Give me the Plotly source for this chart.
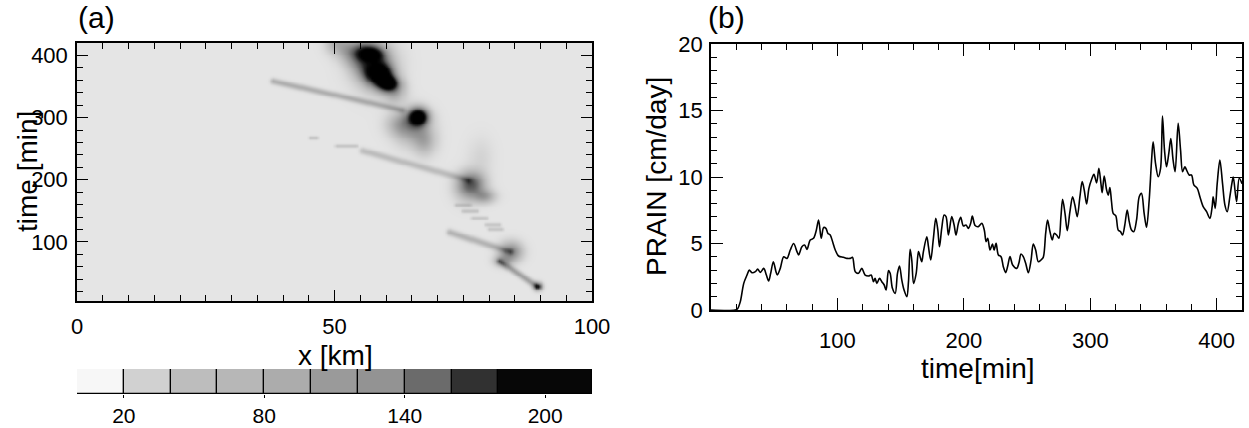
import numpy as np
import plotly.graph_objects as go

# ---------------- Panel (a): features of the rain field (x [km], time [min]) ----------------
blob_x = [57.0, 58.8, 60.6, 57.5, 66.2, 65.0, 67.5, 76.8, 79.0, 78.3, 75.5, 84.2, 82.5, 89.4, 62.5, 55.5]
blob_t = [402, 372, 355, 388, 302, 285, 262, 195, 174, 236, 188, 85, 70, 29, 290, 412]
blob_amp = [160, 185, 165, 80, 230, 75, 50, 90, 70, 16, 55, 95, 60, 120, 40, 60]
blob_sx = [9, 9, 7, 15, 7, 12, 8, 9, 8, 9, 9, 8, 6, 3, 10, 10]
blob_st = [5, 8, 5, 17, 6, 12, 10, 8, 5, 14, 10, 7, 4, 3, 8, 6]

seg_x0 = [38.0, 55.5, 72.3, 82.0, 50.5, 45.2, 50.3, 73.6, 75.0, 76.8, 79.4, 80.0]
seg_t0 = [359, 247, 116, 69, 420, 268, 255, 160, 150, 139, 128, 121]
seg_x1 = [63.0, 76.0, 84.0, 89.4, 61.5, 46.5, 54.2, 76.2, 77.5, 79.4, 82.0, 82.5]
seg_t1 = [313, 200, 85, 29, 342, 268, 255, 160, 150, 139, 128, 121]
seg_amp = [55, 40, 50, 70, 60, 35, 30, 30, 30, 28, 28, 28]
seg_w = [2.2, 2.4, 2.4, 2.2, 8.0, 1.3, 1.3, 1.4, 1.4, 1.4, 1.4, 1.4]
background_level = 8

# colour bar bins
cbar_edges = [0, 20, 40, 60, 80, 100, 120, 140, 160, 180, 220]
cbar_colors = ['#f7f7f7', '#d1d1d1', '#bdbdbd', '#b7b7b7', '#acacac',
               '#9a9a9a', '#939393', '#6b6b6b', '#313131', '#070707']
cbar_ticks = [20, 80, 140, 200]

# ---------------- Panel (b): PRAIN time series ----------------
time_min = [0, 19, 21, 23.2, 25.9, 28.5, 30.3, 32.4, 35.1, 36.9, 39.0, 41.7, 43.8, 45.6, 47.2, 49.3,
            51.4, 52.5, 54.8, 57.5, 60.1, 62.7, 65.4, 68.0, 69.3, 71.9, 74.0, 75.9, 78.5, 81.1, 83.3,
            85.1, 87.2, 89.1, 90.9, 92.5, 94.3, 96.2, 98.3, 100.9, 104.8, 107.5, 110.1, 111.9, 114.1,
            116.7, 119.3, 121.9, 124.6, 126.7, 128.5, 129.8, 131.2, 133.3, 135.1, 137.0, 138.5, 140.4,
            141.7, 143.5, 145.7, 147.5, 149.1, 150.9, 152.7, 154.9, 156.2, 157.5, 158.8, 160.2, 162.3,
            164.1, 165.4, 166.7, 168.0, 170.7, 172.0, 173.8, 175.9, 177.8, 179.4, 180.7, 182.5, 184.4,
            185.9, 187.8, 190.4, 192.3, 193.8, 195.7, 197.5, 199.6, 201.7, 203.6, 205.4, 206.7, 208.9,
            211.5, 214.2, 216.2, 217.6, 218.9, 220.7, 222.6, 223.9, 225.5, 227.3, 229.4, 231.2, 233.1,
            234.7, 236.5, 238.6, 241.8, 243.6, 245.2, 247.0, 248.9, 251.0, 253.1, 254.9, 256.8, 258.9,
            261.0, 262.8, 264.7, 266.2, 268.1, 269.9, 271.5, 273.4, 275.2, 276.8, 278.1, 280.0, 281.8,
            283.9, 286.0, 287.8, 289.7, 291.8, 293.6, 295.2, 297.1, 298.9, 301.0, 302.9, 305.0, 306.8,
            308.4, 309.4, 311.0, 312.9, 314.2, 315.5, 316.8, 318.1, 320.2, 322.1, 323.9, 325.5, 327.3,
            329.2, 330.8, 332.6, 334.4, 336.6, 338.7, 340.5, 342.6, 344.5, 346.6, 348.4, 349.7, 351.6,
            353.7, 355.6, 357.1, 358.7, 360.3, 362.1, 363.7, 365.5, 367.1, 369.5, 371.4, 373.0, 374.8,
            376.1, 378.2, 380.1, 381.9, 384.6, 386.7, 389.3, 392.0, 394.6, 396.4, 397.2, 398.8, 400.4,
            402.5, 404.6, 406.5, 408.3, 410.4, 412.0, 413.1, 415.7, 417.8, 420.0]
prain = [0, 0, 0.1, 0.63, 2.0, 2.63, 3.0, 2.8, 2.88, 3.08, 2.83, 3.13, 2.63, 2.18, 2.76, 3.63,
         2.88, 2.63, 3.13, 4.0, 3.88, 4.51, 5.0, 4.39, 4.14, 4.76, 4.89, 4.56, 5.26, 5.39, 6.0,
         6.77, 5.39, 6.2, 6.14, 5.76, 5.64, 5.13, 4.51, 4.06, 3.96, 3.88, 3.88, 3.96, 2.88,
         2.76, 3.13, 2.63, 2.56, 2.63, 2.13, 2.38, 2.0, 2.38, 2.13, 1.88, 1.5, 2.96,
         2.76, 1.63, 1.25, 2.76, 3.31, 2.26, 1.5, 1.0, 2.13, 4.56, 3.76, 2.0, 2.76,
         4.39, 4.01, 3.63, 4.39, 5.51, 4.76, 3.76, 5.39, 6.89, 6.02, 4.76, 6.14, 7.14,
         7.02, 5.64, 7.02, 6.39, 5.64, 6.52, 6.97, 6.32, 6.39, 6.14, 6.52, 7.07, 6.35,
         6.27, 6.52, 6.0, 5.14, 5.39, 4.51, 4.96, 4.51, 5.01, 4.14, 4.01, 3.26, 2.81,
         3.31, 4.01, 3.38, 3.13, 3.56, 4.21, 4.01, 3.51, 2.81, 3.71, 4.96, 4.51, 3.63,
         3.76, 3.96, 5.76, 6.77, 5.89, 5.26, 5.76, 5.64, 5.39, 7.02, 8.32, 7.27, 5.96,
         7.39, 8.52, 7.89, 7.02, 8.52, 9.65, 9.02, 7.97, 9.15, 9.81, 10.2, 9.56, 10.65,
         9.52, 8.82, 10.07, 9.02, 8.64, 9.2, 8.14, 7.27, 7.07, 6.01, 5.89, 5.64, 6.39,
         7.52, 6.64, 6.01, 5.89, 6.77, 8.52, 8.77, 7.27, 6.22, 8.27, 11.15, 12.65, 11.03,
         10.02, 10.65, 14.58, 12.02, 10.77, 11.77, 12.89, 11.27, 10.4, 14.03, 12.02, 10.4, 10.77,
         10.53, 10.15, 10.15, 9.4, 9.15, 8.52, 7.77, 7.39, 6.89, 7.77, 8.52, 7.64, 9.52,
         11.27, 9.52, 7.89, 7.39, 8.52, 9.52, 10.0, 8.14, 9.9, 9.5]

# ---------------- build the field for panel (a) ----------------
W, H = 1249, 428
ax_l, ax_r, ax_t, ax_b = 77, 592, 43, 301
x_rng = [0, 100]
t_rng = [5, 420]
kx = (ax_r - ax_l) / (x_rng[1] - x_rng[0])      # px per km
kt = (ax_b - ax_t) / (t_rng[1] - t_rng[0])      # px per min

xg = np.arange(0, 100.01, 0.4)
tg = np.arange(4, 421, 1.5)
XX, TT = np.meshgrid(xg, tg)
Z = np.full(XX.shape, float(background_level))
for bx, bt, ba, sx, st in zip(blob_x, blob_t, blob_amp, blob_sx, blob_st):
    dx = (XX - bx) * kx / sx
    dt = (TT - bt) * kt / st
    Z += ba * np.exp(-0.5 * (dx ** 2 + dt ** 2))
for x0, t0, x1, t1, a, w in zip(seg_x0, seg_t0, seg_x1, seg_t1, seg_amp, seg_w):
    px, pt = (XX - x0) * kx, (TT - t0) * kt
    vx, vt = (x1 - x0) * kx, (t1 - t0) * kt
    L2 = vx * vx + vt * vt
    u = np.clip((px * vx + pt * vt) / L2, 0, 1)
    d2 = (px - u * vx) ** 2 + (pt - u * vt) ** 2
    Z += a * np.exp(-0.5 * d2 / w ** 2)
Z = np.clip(Z, 0, 220)

heat_scale = [[0, '#f2f2f2'], [8 / 220, '#e5e5e5'], [30 / 220, '#cdcdcd'], [60 / 220, '#b2b2b2'],
              [100 / 220, '#8c8c8c'], [140 / 220, '#585858'], [170 / 220, '#262626'],
              [200 / 220, '#080808'], [1, '#000000']]

FONT = "Liberation Sans, Arial, Helvetica, sans-serif"

fig = go.Figure()
fig.add_trace(go.Heatmap(x=xg, y=tg, z=Z, colorscale=heat_scale, zmin=0, zmax=220,
                         zsmooth='best', showscale=False, xaxis='x', yaxis='y', hoverinfo='skip'))

# colour bar drawn as bars
widths = [cbar_edges[i + 1] - cbar_edges[i] for i in range(len(cbar_colors))]
fig.add_trace(go.Bar(x=widths, y=[0] * len(widths), base=cbar_edges[:-1], orientation='h',
                     marker=dict(color=cbar_colors, line=dict(color='black', width=1.2)),
                     width=1, xaxis='x3', yaxis='y3', showlegend=False, hoverinfo='skip'))

# line panel (b)
fig.add_trace(go.Scatter(x=time_min, y=prain, mode='lines',
                         line=dict(color='black', width=1.6, shape='spline', smoothing=0.9),
                         xaxis='x2', yaxis='y2', showlegend=False, hoverinfo='skip'))

def dom_x(l, r):
    return [l / W, r / W]

def dom_y(t, b):
    return [(H - b) / H, (H - t) / H]

TICKFONT = dict(family=FONT, size=22, color='black')
axis_common = dict(showline=True, linecolor='black', linewidth=1.5, mirror='allticks',
                   ticks='inside', tickcolor='black', tickwidth=1.3, showgrid=False,
                   zeroline=False, automargin=False, tickfont=TICKFONT)
minor_common = dict(ticks='inside', ticklen=6, tickcolor='black', tickwidth=1.2)

fig.update_layout(
    width=W, height=H, margin=dict(l=0, r=0, t=0, b=0, autoexpand=False),
    paper_bgcolor='white', plot_bgcolor='white',
    font=dict(family=FONT, color='black'),
    barmode='overlay', bargap=0,
    xaxis=dict(domain=dom_x(ax_l, ax_r), range=x_rng, tickvals=[0, 50, 100], ticklen=11,
               ticklabelstandoff=5, minor=dict(dtick=5, tick0=0, **minor_common),
               anchor='y', **axis_common),
    yaxis=dict(domain=dom_y(ax_t, ax_b), range=t_rng, tickvals=[100, 200, 300, 400], ticklen=11,
               ticklabelstandoff=3, minor=dict(dtick=20, tick0=0, **minor_common),
               anchor='x', **axis_common),
    xaxis2=dict(domain=dom_x(711, 1242), range=[0, 420], tickvals=[100, 200, 300, 400], ticklen=12,
                ticklabelstandoff=10, minor=dict(dtick=20, tick0=0, **minor_common),
                anchor='y2', **axis_common),
    yaxis2=dict(domain=dom_y(44, 310), range=[0, 20], tickvals=[0, 5, 10, 15, 20], ticklen=12,
                ticklabelstandoff=2, minor=dict(dtick=1, tick0=0, **minor_common),
                anchor='x2', **axis_common),
    xaxis3=dict(domain=dom_x(ax_l, ax_r), range=[0, 220], tickvals=cbar_ticks, ticks='outside',
                ticklen=3, tickcolor='black', tickwidth=1.3, showline=False, showgrid=False,
                zeroline=False, anchor='y3', ticklabelstandoff=0, automargin=False,
                tickfont=dict(family=FONT, size=21, color='black')),
    yaxis3=dict(domain=dom_y(369, 394), range=[-0.5, 0.5], visible=False, anchor='x3',
                automargin=False),
)

title_font = dict(family=FONT, size=28, color='black')
panel_font = dict(family=FONT, size=30, color='black')
annotations = [
    dict(text='(a)', x=76 / W, y=(H - 18) / H, xanchor='left', yanchor='middle', font=panel_font),
    dict(text='(b)', x=706 / W, y=(H - 18) / H, xanchor='left', yanchor='middle', font=panel_font),
    dict(text='time [min]', x=27 / W, y=(H - 172) / H, xanchor='center', yanchor='middle',
         textangle=-90, font=title_font),
    dict(text='x [km]', x=335 / W, y=(H - 355) / H, xanchor='center', yanchor='middle', font=title_font),
    dict(text='PRAIN [cm/day]', x=657 / W, y=(H - 177) / H, xanchor='center', yanchor='middle',
         textangle=-90, font=title_font),
    dict(text='time[min]', x=978 / W, y=(H - 368) / H, xanchor='center', yanchor='middle', font=title_font),
]
for a in annotations:
    a.update(xref='paper', yref='paper', showarrow=False)
fig.update_layout(annotations=annotations)

fig.write_html("out.html", config={'displayModeBar': False},
               post_script="document.body.style.margin='0';document.body.style.overflow='hidden';")
